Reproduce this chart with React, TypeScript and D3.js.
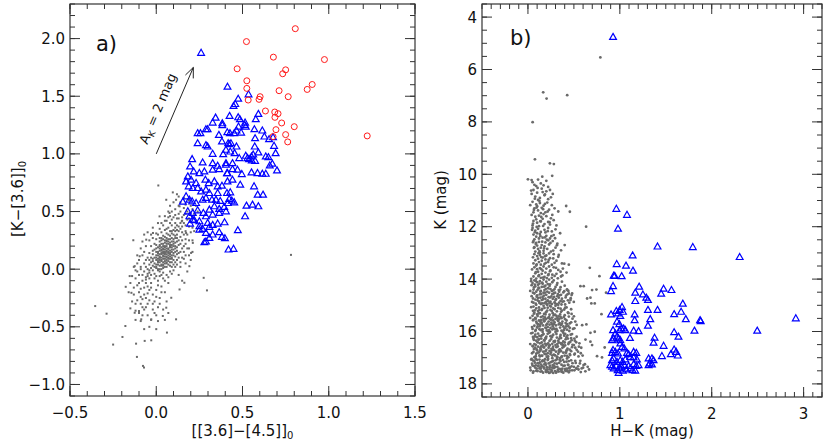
import React from 'react';
import * as d3 from 'd3';

const W = 830, H = 445;
const FONT = "'DejaVu Sans', sans-serif";
const GRAY = '#6a6a6a';
const BLUE = '#0000ff';
const RED = '#ff1a1a';
const AX = '#333';

// ---------- Panel a data: [[3.6]-[4.5]]0 vs [K-[3.6]]0 ----------
const redA: [number, number][] = [
  [0.806,2.086],[0.523,1.974],[0.679,1.839],[0.975,1.818],[0.469,1.738],[0.75,1.729],[0.733,1.695],
  [0.525,1.634],[0.525,1.568],[0.904,1.602],[0.875,1.559],[0.712,1.548],[0.533,1.467],[0.602,1.496],
  [0.596,1.473],[0.765,1.496],[0.633,1.372],[0.687,1.363],[0.706,1.349],[0.688,1.317],[0.727,1.268],
  [0.8,1.236],[0.694,1.21],[0.75,1.167],[0.677,1.15],[0.762,1.104],[1.223,1.156]
];

const blueA: [number, number][] = [
  [0.26,1.876],[0.413,1.582],[0.535,1.516],[0.475,1.478],[0.458,1.432],[0.448,1.415],[0.344,1.314],
  [0.327,1.271],[0.383,1.265],[0.383,1.248],[0.425,1.329],[0.475,1.317],[0.485,1.3],[0.515,1.271],
  [0.513,1.251],[0.592,1.346],[0.577,1.3],[0.24,1.179],[0.256,1.179],[0.288,1.213],[0.298,1.213],
  [0.363,1.164],[0.412,1.187],[0.427,1.179],[0.452,1.179],[0.465,1.202],[0.477,1.236],[0.492,1.184],
  [0.519,1.236],[0.569,1.213],[0.615,1.202],[0.627,1.15],[0.654,1.127],[0.683,1.069],[0.677,1.144],
  [0.573,1.135],[0.24,1.092],[0.288,1.075],[0.298,1.063],[0.381,1.107],[0.417,1.092],[0.423,1.084],
  [0.433,1.092],[0.429,1.02],[0.404,1.035],[0.388,0.997],[0.327,1.0],[0.465,1.063],[0.571,1.063],
  [0.592,1.012],[0.635,0.977],[0.692,1.006],[0.65,0.971],[0.208,0.954],[0.269,0.925],[0.327,0.919],
  [0.356,0.896],[0.404,0.919],[0.442,0.919],[0.454,1.006],[0.481,0.963],[0.519,0.983],[0.538,0.954],
  [0.552,0.977],[0.562,0.994],[0.573,0.939],[0.554,0.942],[0.529,0.963],[0.196,0.89],[0.217,0.847],
  [0.25,0.833],[0.279,0.847],[0.327,0.862],[0.365,0.867],[0.404,0.905],[0.41,0.833],[0.442,0.867],
  [0.471,0.862],[0.496,0.824],[0.552,0.839],[0.587,0.833],[0.615,0.827],[0.635,0.827],[0.673,0.914],
  [0.7,0.856],[0.658,0.899],[0.183,0.804],[0.202,0.775],[0.231,0.746],[0.285,0.775],[0.304,0.746],
  [0.337,0.761],[0.356,0.718],[0.381,0.723],[0.413,0.761],[0.442,0.775],[0.413,0.833],[0.173,0.761],
  [0.188,0.718],[0.212,0.703],[0.24,0.703],[0.26,0.674],[0.288,0.689],[0.308,0.66],[0.356,0.66],
  [0.41,0.66],[0.429,0.666],[0.487,0.732],[0.567,0.718],[0.588,0.646],[0.619,0.646],[0.154,0.585],
  [0.173,0.631],[0.192,0.602],[0.208,0.588],[0.231,0.573],[0.269,0.602],[0.288,0.617],[0.323,0.602],
  [0.346,0.602],[0.371,0.591],[0.423,0.608],[0.438,0.594],[0.452,0.579],[0.415,0.573],[0.558,0.559],
  [0.592,0.545],[0.523,0.55],[0.183,0.501],[0.212,0.487],[0.24,0.51],[0.273,0.487],[0.308,0.516],
  [0.337,0.545],[0.365,0.522],[0.394,0.539],[0.192,0.458],[0.212,0.429],[0.25,0.415],[0.288,0.458],
  [0.327,0.473],[0.365,0.487],[0.404,0.501],[0.196,0.395],[0.221,0.424],[0.25,0.372],[0.269,0.349],
  [0.298,0.401],[0.327,0.383],[0.356,0.395],[0.396,0.406],[0.515,0.458],[0.473,0.337],[0.25,0.343],
  [0.288,0.314],[0.308,0.366],[0.327,0.3],[0.365,0.32],[0.381,0.28],[0.398,0.268],[0.279,0.233],
  [0.308,0.271],[0.288,0.239],[0.419,0.17],[0.448,0.176]
];

const grayA: [number, number][] = [
  // core
  [0.02,0.10],[0.05,0.15],[0.03,0.08],[0.07,0.18],[-0.01,0.05],[0.04,0.12],[0.06,0.11],[0.01,0.14],[0.08,0.20],[0.00,0.02],
  [0.03,0.17],[0.05,0.07],[0.09,0.15],[-0.02,0.09],[0.02,0.21],[0.06,0.24],[0.04,0.03],[0.10,0.22],[0.07,0.10],[-0.03,0.01],
  [0.01,0.06],[0.05,0.19],[0.08,0.13],[0.03,0.13],[0.11,0.27],[0.02,-0.02],[0.06,0.16],[0.04,0.22],[-0.04,-0.03],[0.07,0.26],
  [0.09,0.09],[0.00,0.12],[0.12,0.30],[0.03,0.04],[-0.01,0.17],[0.05,0.28],[0.08,0.06],[0.02,0.16],[0.06,0.05],[0.10,0.17],
  [-0.02,0.13],[0.04,0.09],[0.07,0.14],[0.01,0.00],[0.09,0.24],[0.03,0.19],[0.05,0.11],[0.11,0.20],[-0.05,-0.06],[0.02,0.11],
  [0.06,0.20],[0.08,0.29],[0.00,0.08],[0.04,0.15],[0.10,0.12],[0.03,0.25],[-0.03,0.06],[0.07,0.07],[0.12,0.24],[0.01,0.19],
  [0.05,0.02],[0.09,0.19],[0.02,0.06],[0.06,0.13],[-0.01,-0.04],[0.04,0.18],[0.08,0.16],[0.13,0.33],[0.03,0.00],[0.07,0.22],
  [0.00,0.15],[0.05,0.09],[0.10,0.26],[0.02,0.13],[-0.04,0.04],[0.06,0.27],[0.08,0.11],[0.04,0.06],[0.11,0.15],[0.01,0.09],
  [0.03,0.22],[0.07,0.17],[-0.02,-0.01],[0.09,0.21],[0.05,0.14],[0.12,0.19],[0.02,0.03],[0.06,0.08],[0.00,-0.06],[0.04,0.26],
  [0.08,0.23],[0.10,0.08],[0.03,0.10],[-0.06,-0.09],[0.07,0.30],[0.01,0.12],[0.05,0.23],[0.09,0.12],[0.02,0.18],[0.06,0.02],
  [0.11,0.23],[-0.01,0.10],[0.04,0.01],[0.08,0.26],[0.13,0.21],[0.03,0.16],[0.00,0.04],[0.06,0.18],[0.10,0.30],[0.05,0.05],
  [0.02,0.24],[0.07,0.12],[-0.03,-0.05],[0.09,0.17],[0.04,0.11],[0.12,0.27],[0.01,-0.01],[0.06,0.22],[0.08,0.09],[0.03,0.07],
  [-0.02,0.03],[0.05,0.17],[0.10,0.14],[0.14,0.28],[0.02,0.08],[0.07,0.04],[0.04,0.20],[0.00,0.18],[0.09,0.27],[0.06,0.10],
  [0.11,0.18],[-0.04,0.08],[0.03,0.03],[0.08,0.19],[0.05,0.25],[0.01,0.15],[0.07,0.15],[0.12,0.13],[0.02,0.00],[0.06,0.06],
  [-0.01,0.02],[0.04,0.14],[0.10,0.20],[0.03,0.27],[0.08,0.03],[0.00,0.10],[0.05,0.20],[0.09,0.06],[0.13,0.25],[-0.02,0.16],
  [0.06,0.15],[0.02,0.20],[0.07,0.09],[0.11,0.11],[0.04,0.04],[0.01,0.07],[0.08,0.14],[-0.05,0.00],[0.03,0.14],[0.10,0.24],
  [0.06,0.25],[0.05,0.13],[0.00,0.01],[0.09,0.10],[0.12,0.16],[0.02,0.10],[0.07,0.24],[0.04,0.17],[-0.03,0.10],[0.08,0.21],
  [0.01,0.04],[0.11,0.29],
  // mid halo
  [-0.09,0.00],[-0.07,0.05],[-0.05,0.10],[-0.08,-0.05],[-0.06,0.02],[-0.04,0.14],[-0.03,0.20],[-0.10,-0.12],[-0.06,-0.07],[-0.04,-0.01],
  [-0.02,0.07],[-0.01,0.22],[0.00,0.26],[0.01,0.30],[0.03,0.32],[0.05,0.34],[0.07,0.36],[0.09,0.38],[0.11,0.40],[0.04,0.38],
  [0.06,0.42],[0.08,0.46],[0.10,0.34],[0.12,0.34],[0.14,0.40],[0.13,0.44],[0.15,0.32],[0.16,0.40],[0.14,0.22],[0.15,0.18],
  [0.13,0.14],[0.12,0.08],[0.14,0.06],[0.16,0.09],[0.10,0.04],[0.11,0.06],[0.09,0.02],[0.08,-0.02],[0.06,-0.05],[0.04,-0.03],
  [0.02,-0.06],[0.05,-0.10],[0.07,-0.07],[0.09,-0.04],[0.10,-0.01],[0.01,-0.14],[-0.01,-0.08],[-0.03,-0.16],[0.03,-0.20],[-0.05,-0.21],
  [-0.07,-0.16],[-0.09,-0.24],[-0.02,-0.30],[0.00,-0.24],[-0.04,-0.27],[-0.06,-0.33],[-0.11,-0.27],[-0.08,-0.33],[0.02,-0.30],[0.04,-0.35],
  [-0.13,-0.16],[-0.12,-0.30],[-0.10,-0.38],[-0.14,-0.06],[-0.16,-0.20],[-0.13,0.02],[-0.15,-0.34],[-0.11,0.12],[-0.09,0.18],[-0.08,0.24],
  [0.17,0.33],[0.19,0.37],[0.18,0.43],[0.20,0.41],[0.22,0.33],[0.21,0.52],[0.23,0.55],[0.17,0.48],[0.19,0.25],[0.16,0.53],
  [0.09,0.43],[0.07,0.50],[0.05,0.46],[0.03,0.40],[0.02,0.35],[0.00,0.31],[-0.02,0.36],[0.01,0.40],[0.11,0.47],[0.13,0.55],
  [-0.05,-0.40],[-0.01,-0.38],[0.01,-0.45],[-0.09,-0.45],[-0.04,-0.50],[0.07,-0.38],[0.05,-0.44],[-0.12,-0.44],[-0.07,-0.52],[0.00,-0.52],
  [0.06,0.31],[0.08,0.33],[-0.00,0.21],[0.02,0.27],[0.04,0.29],[0.09,0.31],[0.11,0.33],[0.13,0.37],[0.15,0.45],[0.17,0.12],
  // lower halo
  [-0.08,-0.10],[-0.05,-0.15],[-0.10,-0.20],[-0.03,-0.12],[-0.07,-0.02],[-0.12,-0.08],[0.00,-0.18],[-0.06,-0.25],[-0.09,-0.30],
  [-0.02,-0.22],[0.01,-0.10],[-0.04,-0.18],[-0.11,-0.14],[-0.07,-0.35],[-0.01,-0.28],[0.03,-0.15],[-0.13,-0.22],[-0.05,-0.30],
  [0.02,-0.25],[-0.08,-0.40],[-0.04,-0.08],[-0.10,-0.05],[0.04,-0.08],[-0.06,-0.12],[-0.02,-0.35],[-0.14,-0.28],[0.00,-0.40],
  [-0.09,-0.17],[0.05,-0.20],[-0.03,-0.44],[0.06,-0.28],[-0.12,-0.36],[-0.07,-0.22],[0.01,-0.33],[-0.05,-0.04],[0.07,-0.12],
  [-0.11,-0.02],[-0.15,-0.12],[0.03,-0.05],[-0.08,-0.26],
  // upper halo
  [0.12,0.38],[0.15,0.42],[0.10,0.45],[0.18,0.50],[0.14,0.35],[0.16,0.30],[0.13,0.48],[0.20,0.55],[0.08,0.40],[0.17,0.38],
  [0.11,0.52],[0.19,0.44],[0.06,0.35],[0.14,0.58],[0.21,0.36],[0.09,0.50],[0.16,0.62],[0.12,0.44],[0.18,0.30],[0.07,0.45],
  [0.22,0.48],[0.15,0.25],[0.10,0.58],[0.13,0.63],[0.17,0.22],[0.19,0.60],[0.05,0.42],[0.11,0.36],[0.23,0.42],[0.16,0.47],
  [0.08,0.55],[0.20,0.32],[0.14,0.50],[0.12,0.65],[0.18,0.18],[0.24,0.50],[0.09,0.33],[0.15,0.37],[0.21,0.25],[0.17,0.56],
  // side halo
  [-0.06,0.20],[-0.08,0.12],[-0.04,0.25],[-0.10,0.08],[-0.07,0.30],[0.15,0.10],[0.17,0.05],[0.14,0.02],[0.19,0.12],[0.16,0.15],
  [-0.09,0.02],[-0.05,0.32],[0.18,-0.02],[0.13,-0.05],[0.16,0.20],[-0.11,0.05],[0.20,0.08],[-0.03,0.30],[0.15,-0.10],[0.12,0.04],
  [-0.07,0.15],[0.19,0.18],[0.14,0.15],[-0.12,-0.01],[0.17,0.26],[0.21,0.15],[-0.06,0.08],[0.11,0.02],[0.13,0.10],[-0.02,0.27],
  // outliers
  [-0.254,0.262],[-0.133,0.251],[-0.354,-0.32],[-0.288,-0.386],[-0.25,-0.654],[-0.196,-0.588],[-0.117,-0.646],[-0.112,-0.761],
  [-0.077,-0.839],[-0.071,-0.853],[-0.029,-0.617],[-0.067,-0.622],[0.062,-0.55],[0.115,-0.435],[0.294,-0.184],[0.275,-0.075],
  [0.781,0.124],[0.012,0.726],[0.096,0.666],[-0.179,-0.493],[-0.125,-0.378],[-0.029,-0.435],[0.038,-0.406],[-0.177,-0.153],
  [-0.154,-0.06],[-0.144,-0.205],[-0.1,-0.363],[-0.087,-0.435],[0.058,-0.334],[0.087,-0.248],[0.135,-0.176],[0.163,-0.118],
  [0.192,0.026],[0.202,0.141],[0.212,0.228],[0.173,0.314],[0.148,0.415],[0.135,0.545],[0.115,0.602],[0.058,0.602],
  [0.077,0.487],[0.019,0.458],[-0.019,0.314],[-0.058,0.256],[-0.096,0.112],[-0.125,0.026]
];

// ---------- Panel b data: H-K vs K ----------
const blueB: [number, number][] = [
  [0.926,4.76],[0.962,11.32],[1.078,11.55],[0.98,12.08],[1.41,12.76],[1.794,12.78],[2.304,13.16],[1.139,13.1],
  [0.966,13.43],[1.067,13.49],[1.143,13.68],[0.933,13.87],[0.944,13.88],[1.02,13.89],[0.926,14.27],[0.904,14.46],
  [1.21,14.29],[1.168,14.52],[1.251,14.59],[1.288,14.71],[1.306,14.8],[1.45,14.56],[1.476,14.37],[1.562,14.42],
  [1.168,14.84],[1.685,14.94],[0.904,15.35],[0.962,15.22],[0.998,15.18],[1.024,15.07],[1.161,15.35],[1.161,15.57],
  [1.306,15.18],[1.41,15.18],[1.331,15.53],[1.591,15.34],[1.667,15.25],[1.718,15.53],[1.873,15.57],[1.88,15.61],
  [2.915,15.5],[2.495,15.97],[1.306,15.78],[1.15,15.97],[1.204,15.99],[1.591,16.03],[1.638,16.2],[1.812,15.97],
  [1.11,16.25],[1.378,16.24],[1.367,16.43],[1.476,16.55],[1.591,16.69],[1.613,16.78],[1.555,16.87],[1.631,16.92],
  [1.458,16.94],[1.034,15.25],[0.98,15.31],[1.005,15.41],[0.969,15.63],[0.995,15.72],
  [0.926,15.95],[0.951,16.08],[0.969,16.2],[0.933,16.27],[0.915,16.33],[0.987,16.27],[1.005,16.33],[0.998,15.95],
  [1.016,15.89],[1.042,15.89],[1.06,15.95],[1.005,16.46],[1.024,16.59],[1.049,16.65],[0.926,16.71],[0.915,16.82],
  [0.951,16.78],[0.98,16.84],[1.078,16.82],[1.096,16.87],[1.15,16.78],[1.179,16.82],[1.114,16.97],[1.15,16.99],
  [1.186,17.07],[1.313,17.03],[1.349,17.03],[1.367,17.1],[1.324,17.22],[1.349,17.26],[1.313,17.29],[0.897,17.29],
  [0.915,17.35],[0.933,17.41],[0.962,17.32],[0.976,17.48],[0.998,17.41],[1.02,17.35],[1.034,17.5],[0.987,17.58],
  [1.049,17.29],[1.071,17.45],[1.096,17.32],[1.114,17.41],[1.139,17.48],[1.15,17.25],[1.179,17.32],[1.204,17.29],
  [1.168,17.5],[0.915,17.1],[0.933,17.03],[0.969,17.16],[1.005,17.1],[1.031,17.16],[1.06,17.07]
];

const grayB: [number, number][] = [
  // bright sparse stars
  [0.788,5.54],[0.166,6.87],[0.203,7.11],[0.427,6.98],[0.051,8.01],[0.076,9.43],[0.239,9.58],[0.282,9.61],
  [0.0,10.19],[0.04,10.22],[0.156,10.09],[0.264,10.06],
  // stragglers right of column
  [0.633,12.0],[0.416,11.21],[0.456,11.43],[0.673,13.57],[0.778,13.89],[0.04,14.23],[0.571,14.27],[0.607,14.27],
  [0.698,14.42],[0.745,14.4],[0.85,14.52],[0.644,14.74],[0.68,14.71],[0.69,14.93],[0.727,14.93],[0.8,15.34],
  [0.59,15.76],[0.636,15.73],[0.68,16.05],[0.727,16.01],[0.626,16.31],[0.68,16.39],[0.698,16.52],[0.752,16.94],
  [0.806,16.99],[0.835,16.61],[0.427,14.42],[0.445,14.55],[0.481,14.55],[0.463,14.8],[0.499,14.87],
  // column K 10-11
  [0.05,10.3],[0.09,10.45],[0.14,10.35],[0.2,10.25],[0.07,10.4],[0.22,10.48],[0.11,10.2],[0.17,10.42],
  [0.06,10.6],[0.1,10.7],[0.15,10.55],[0.2,10.65],[0.24,10.6],[0.27,10.75],[0.08,10.85],[0.13,10.9],[0.18,10.8],
  [0.22,10.95],[0.04,10.75],[0.16,10.68],[0.25,10.88],[0.11,10.98],
  // K 11-12
  [0.05,11.05],[0.09,11.15],[0.13,11.1],[0.17,11.2],[0.21,11.08],[0.26,11.18],[0.07,11.3],[0.11,11.38],[0.15,11.28],
  [0.19,11.45],[0.23,11.35],[0.29,11.3],[0.06,11.45],[0.14,11.48],[0.33,11.42],[0.1,11.22],
  [0.04,11.55],[0.08,11.62],[0.12,11.58],[0.16,11.7],[0.2,11.6],[0.25,11.68],[0.06,11.78],[0.1,11.85],[0.14,11.8],
  [0.18,11.9],[0.22,11.82],[0.28,11.75],[0.31,11.95],[0.05,11.95],[0.12,11.98],[0.17,11.52],[0.24,11.92],[0.09,11.72],
  // K 12-13
  [0.05,12.05],[0.08,12.15],[0.11,12.08],[0.14,12.2],[0.18,12.12],[0.22,12.05],[0.26,12.18],[0.3,12.1],[0.06,12.3],
  [0.09,12.38],[0.13,12.28],[0.16,12.42],[0.2,12.35],[0.24,12.45],[0.28,12.32],[0.35,12.25],[0.07,12.48],[0.12,12.45],
  [0.19,12.22],[0.1,12.25],
  [0.06,12.55],[0.09,12.62],[0.12,12.58],[0.15,12.7],[0.19,12.6],[0.23,12.68],[0.27,12.55],[0.32,12.65],[0.07,12.78],
  [0.11,12.85],[0.14,12.8],[0.17,12.92],[0.21,12.85],[0.25,12.95],[0.3,12.8],[0.36,12.9],[0.08,12.95],[0.13,12.98],
  [0.18,12.75],[0.1,12.72],[0.22,12.52],[0.4,12.7],
  // K 13-14
  [0.07,13.05],[0.1,13.12],[0.13,13.08],[0.16,13.18],[0.2,13.1],[0.24,13.2],[0.28,13.05],[0.33,13.15],[0.08,13.28],
  [0.12,13.35],[0.15,13.3],[0.18,13.42],[0.22,13.35],[0.26,13.45],[0.31,13.3],[0.37,13.4],[0.09,13.48],[0.14,13.45],
  [0.19,13.25],[0.11,13.22],[0.23,13.02],[0.29,13.38],[0.06,13.4],[0.17,13.02],
  [0.07,13.55],[0.1,13.62],[0.13,13.58],[0.16,13.68],[0.2,13.6],[0.24,13.7],[0.28,13.55],[0.33,13.65],[0.38,13.6],
  [0.08,13.78],[0.12,13.85],[0.15,13.8],[0.18,13.92],[0.22,13.85],[0.26,13.95],[0.31,13.8],[0.36,13.9],[0.42,13.75],
  [0.09,13.98],[0.14,13.95],[0.19,13.75],[0.11,13.72],[0.23,13.52],[0.29,13.88],[0.06,13.9],[0.17,13.52],
  // extra K 10.5-14
  [0.035,10.62],[0.075,10.93],[0.125,11.02],[0.185,10.77],[0.095,11.27],[0.145,11.63],[0.215,11.42],[0.055,11.88],[0.165,11.97],[0.265,11.55],
  [0.045,12.12],[0.135,12.36],[0.205,12.49],[0.085,12.66],[0.175,12.83],[0.245,12.62],[0.115,13.01],[0.055,13.17],[0.195,13.38],[0.275,13.21],
  [0.145,13.62],[0.085,13.73],[0.225,13.81],[0.305,13.57],[0.035,13.99],[0.165,13.94],[0.355,13.72],[0.125,12.93],[0.215,12.17],[0.065,11.36],
  [0.105,10.52],[0.185,11.13],[0.235,11.83],[0.155,12.57],[0.275,12.91],[0.095,13.44],[0.245,13.67],[0.325,13.97],[0.045,13.63],[0.185,13.13],
  [0.135,11.79],[0.075,12.21],[0.255,12.36],[0.335,13.08],[0.395,13.41],[0.115,13.89],[0.205,13.96],[0.065,12.81],[0.295,12.44],[0.165,11.33],
  [0.025,11.18],[0.095,12.01],[0.225,13.27],[0.145,13.16],[0.185,12.41],[0.055,12.59],[0.265,13.83],[0.375,13.86],[0.445,13.45],[0.315,12.71],
  // K 14-15
  [0.07,14.05],[0.1,14.12],[0.13,14.08],[0.16,14.18],[0.2,14.1],[0.24,14.2],[0.28,14.05],[0.32,14.15],[0.37,14.1],
  [0.08,14.28],[0.12,14.35],[0.15,14.3],[0.18,14.42],[0.22,14.35],[0.26,14.45],[0.3,14.3],[0.35,14.4],[0.4,14.25],
  [0.09,14.48],[0.14,14.45],[0.19,14.25],[0.11,14.22],[0.23,14.02],[0.29,14.38],[0.06,14.4],[0.17,14.02],[0.44,14.45],
  [0.34,14.48],[0.21,14.48],[0.05,14.15],
  [0.07,14.55],[0.1,14.62],[0.13,14.58],[0.16,14.68],[0.2,14.6],[0.24,14.7],[0.28,14.55],[0.32,14.65],[0.36,14.6],
  [0.41,14.7],[0.08,14.78],[0.12,14.85],[0.15,14.8],[0.18,14.92],[0.22,14.85],[0.26,14.95],[0.3,14.8],[0.34,14.9],
  [0.39,14.85],[0.45,14.9],[0.09,14.98],[0.14,14.95],[0.19,14.75],[0.11,14.72],[0.23,14.52],[0.29,14.88],[0.06,14.9],
  [0.17,14.52],[0.33,14.98],[0.21,14.98],[0.27,14.75],[0.04,14.65],[0.37,14.75],[0.43,14.58],
  [0.035,14.08],[0.075,14.21],[0.115,14.33],[0.155,14.14],[0.195,14.37],[0.235,14.26],[0.275,14.43],[0.315,14.22],[0.355,14.31],[0.395,14.46],
  [0.055,14.52],[0.095,14.67],[0.135,14.71],[0.175,14.63],[0.215,14.81],[0.255,14.66],[0.295,14.93],[0.335,14.71],[0.375,14.86],[0.415,14.63],
  [0.045,14.87],[0.085,14.94],[0.125,14.91],[0.165,14.77],[0.205,14.96],[0.245,14.86],[0.285,14.68],[0.325,14.57],[0.365,14.97],[0.435,14.81],
  [0.065,14.32],[0.105,14.41],[0.145,14.57],[0.185,14.52],[0.225,14.69],[0.265,14.57],[0.305,14.77],[0.345,14.62],[0.385,14.51],[0.465,14.73],
  [0.025,14.45],[0.125,14.17],[0.215,14.19],[0.265,14.12],[0.335,14.42],[0.195,14.87],[0.105,14.81],[0.055,14.74],[0.155,14.93],[0.405,14.97],
  [0.085,14.07],[0.175,14.29],[0.245,14.38],[0.295,14.52],[0.355,14.83],[0.425,14.39],[0.135,14.48],[0.235,14.92],[0.315,14.96],[0.475,14.61],
  // K 15-16
  [0.06,15.05],[0.09,15.12],[0.12,15.08],[0.15,15.18],[0.18,15.1],[0.21,15.2],[0.25,15.05],[0.29,15.15],[0.33,15.1],
  [0.37,15.2],[0.42,15.08],[0.47,15.15],[0.07,15.28],[0.1,15.35],[0.13,15.3],[0.16,15.42],[0.19,15.35],[0.23,15.45],
  [0.27,15.3],[0.31,15.4],[0.35,15.35],[0.39,15.45],[0.44,15.3],[0.08,15.48],[0.14,15.45],[0.2,15.25],[0.11,15.22],
  [0.24,15.02],[0.28,15.38],[0.05,15.4],[0.17,15.02],[0.32,15.48],[0.22,15.48],[0.26,15.22],[0.36,15.25],[0.4,15.38],
  [0.5,15.42],[0.3,15.02],
  [0.06,15.55],[0.09,15.62],[0.12,15.58],[0.15,15.68],[0.18,15.6],[0.21,15.7],[0.25,15.55],[0.29,15.65],[0.33,15.6],
  [0.37,15.7],[0.42,15.58],[0.47,15.65],[0.07,15.78],[0.1,15.85],[0.13,15.8],[0.16,15.92],[0.19,15.85],[0.23,15.95],
  [0.27,15.8],[0.31,15.9],[0.35,15.85],[0.39,15.95],[0.44,15.8],[0.49,15.9],[0.08,15.98],[0.14,15.95],[0.2,15.75],
  [0.11,15.72],[0.24,15.52],[0.28,15.88],[0.05,15.9],[0.17,15.52],[0.32,15.98],[0.22,15.98],[0.26,15.72],[0.36,15.75],
  [0.4,15.88],[0.53,15.75],[0.3,15.52],[0.45,15.98],[0.34,15.52],[0.41,15.68],
  [0.035,15.07],[0.075,15.19],[0.115,15.31],[0.155,15.14],[0.195,15.27],[0.235,15.36],[0.275,15.12],[0.315,15.23],[0.355,15.44],[0.395,15.16],
  [0.435,15.27],[0.475,15.33],[0.055,15.57],[0.095,15.68],[0.135,15.73],[0.175,15.61],[0.215,15.83],[0.255,15.66],[0.295,15.91],[0.335,15.73],
  [0.375,15.62],[0.415,15.81],[0.455,15.69],[0.505,15.88],[0.045,15.83],[0.085,15.94],[0.125,15.91],[0.165,15.77],[0.205,15.96],[0.245,15.86],
  [0.285,15.71],[0.325,15.57],[0.365,15.97],[0.405,15.53],[0.445,15.43],[0.065,15.32],[0.105,15.41],[0.145,15.57],[0.185,15.46],[0.225,15.62],
  [0.265,15.47],[0.305,15.77],[0.345,15.68],[0.385,15.81],[0.425,15.93],[0.485,15.51],[0.025,15.48],[0.125,15.17],[0.215,15.09],[0.265,15.92],
  [0.335,15.42],[0.195,15.53],[0.105,15.81],[0.055,15.21],[0.155,15.93],[0.405,15.09],[0.085,15.51],[0.175,15.33],[0.245,15.18],[0.295,15.36],
  [0.355,15.13],[0.425,15.72],[0.135,15.63],[0.235,15.74],[0.315,15.96],[0.455,15.86],[0.365,15.49],[0.275,15.58],[0.195,15.87],[0.515,15.62],
  // K 16-17
  [0.05,16.05],[0.08,16.12],[0.11,16.08],[0.14,16.18],[0.17,16.1],[0.2,16.2],[0.23,16.05],[0.27,16.15],[0.31,16.1],
  [0.35,16.2],[0.39,16.08],[0.43,16.15],[0.48,16.1],[0.53,16.2],[0.06,16.28],[0.09,16.35],[0.12,16.3],[0.15,16.42],
  [0.18,16.35],[0.22,16.45],[0.25,16.3],[0.29,16.4],[0.33,16.35],[0.37,16.45],[0.41,16.3],[0.46,16.4],[0.51,16.35],
  [0.07,16.48],[0.13,16.45],[0.19,16.25],[0.1,16.22],[0.24,16.02],[0.28,16.38],[0.16,16.02],[0.32,16.48],[0.21,16.48],
  [0.26,16.22],[0.36,16.25],[0.4,16.42],[0.44,16.48],[0.3,16.02],[0.34,16.28],[0.38,16.02],[0.47,16.25],[0.56,16.45],
  [0.42,16.22],
  [0.05,16.55],[0.08,16.62],[0.11,16.58],[0.14,16.68],[0.17,16.6],[0.2,16.7],[0.23,16.55],[0.27,16.65],[0.31,16.6],
  [0.35,16.7],[0.39,16.58],[0.43,16.65],[0.48,16.6],[0.53,16.7],[0.58,16.62],[0.06,16.78],[0.09,16.85],[0.12,16.8],
  [0.15,16.92],[0.18,16.85],[0.22,16.95],[0.25,16.8],[0.29,16.9],[0.33,16.85],[0.37,16.95],[0.41,16.8],[0.46,16.9],
  [0.51,16.85],[0.55,16.95],[0.07,16.98],[0.13,16.95],[0.19,16.75],[0.1,16.72],[0.24,16.52],[0.28,16.88],[0.16,16.52],
  [0.32,16.98],[0.21,16.98],[0.26,16.72],[0.36,16.75],[0.4,16.92],[0.44,16.98],[0.3,16.52],[0.34,16.78],[0.38,16.52],
  [0.47,16.75],[0.42,16.72],[0.5,16.52],
  [0.035,16.07],[0.075,16.19],[0.115,16.31],[0.155,16.14],[0.195,16.27],[0.235,16.36],[0.275,16.12],[0.315,16.23],[0.355,16.44],[0.395,16.16],
  [0.435,16.27],[0.475,16.33],[0.525,16.41],[0.055,16.57],[0.095,16.68],[0.135,16.73],[0.175,16.61],[0.215,16.83],[0.255,16.66],[0.295,16.91],
  [0.335,16.73],[0.375,16.62],[0.415,16.81],[0.455,16.69],[0.505,16.88],[0.545,16.77],[0.045,16.83],[0.085,16.94],[0.125,16.91],[0.165,16.77],
  [0.205,16.96],[0.245,16.86],[0.285,16.71],[0.325,16.57],[0.365,16.97],[0.405,16.53],[0.445,16.43],[0.065,16.32],[0.105,16.41],[0.145,16.57],
  [0.185,16.46],[0.225,16.62],[0.265,16.47],[0.305,16.77],[0.345,16.68],[0.385,16.81],[0.425,16.93],[0.485,16.51],[0.025,16.48],[0.125,16.17],
  [0.215,16.09],[0.265,16.92],[0.335,16.42],[0.195,16.53],[0.105,16.81],[0.055,16.21],[0.155,16.93],[0.405,16.09],[0.085,16.51],[0.175,16.33],
  [0.245,16.18],[0.295,16.36],[0.355,16.13],[0.425,16.72],[0.135,16.63],[0.235,16.74],[0.315,16.96],[0.455,16.86],[0.365,16.49],[0.275,16.58],
  [0.195,16.87],[0.515,16.62],[0.575,16.83],[0.595,16.92],[0.555,16.58],[0.465,16.12],[0.505,16.27],[0.385,16.38],[0.145,16.27],[0.065,16.67],
  // K 17-17.6
  [0.04,17.05],[0.07,17.12],[0.1,17.08],[0.13,17.18],[0.16,17.1],[0.19,17.2],[0.22,17.05],[0.26,17.15],[0.3,17.1],
  [0.34,17.2],[0.38,17.08],[0.42,17.15],[0.47,17.1],[0.52,17.2],[0.57,17.12],[0.62,17.25],[0.05,17.3],[0.08,17.38],
  [0.11,17.32],[0.14,17.42],[0.17,17.35],[0.21,17.45],[0.24,17.3],[0.28,17.4],[0.32,17.35],[0.36,17.45],[0.4,17.3],
  [0.45,17.4],[0.5,17.35],[0.55,17.45],[0.6,17.38],[0.03,17.48],[0.09,17.5],[0.15,17.52],[0.2,17.55],[0.26,17.5],
  [0.31,17.55],[0.37,17.52],[0.43,17.5],[0.48,17.48],[0.53,17.42],[0.18,17.25],[0.12,17.22],[0.27,17.28],[0.35,17.02],
  [0.44,17.28],[0.23,17.58],[0.29,17.22],[0.06,17.52],[0.65,17.35],
  [0.035,17.07],[0.075,17.19],[0.115,17.31],[0.155,17.14],[0.195,17.27],[0.235,17.36],[0.275,17.12],[0.315,17.23],[0.355,17.44],[0.395,17.16],
  [0.435,17.27],[0.475,17.33],[0.525,17.41],[0.565,17.22],[0.055,17.57],[0.095,17.42],[0.135,17.53],[0.175,17.41],[0.215,17.53],[0.255,17.46],
  [0.295,17.51],[0.335,17.53],[0.375,17.42],[0.415,17.51],[0.455,17.49],[0.505,17.48],[0.045,17.23],[0.085,17.04],[0.125,17.41],[0.165,17.57],
  [0.205,17.36],[0.245,17.56],[0.285,17.31],[0.325,17.47],[0.365,17.27],[0.405,17.43],[0.445,17.13],[0.065,17.32],[0.105,17.21],[0.145,17.27],
  [0.185,17.06],[0.225,17.22],[0.265,17.37],[0.305,17.57],[0.345,17.08],[0.385,17.31],[0.425,17.03],[0.485,17.21],[0.025,17.38],[0.125,17.07],
  [0.215,17.09],[0.265,17.02],[0.335,17.42],[0.195,17.53],[0.105,17.51],[0.055,17.11],[0.155,17.33],[0.405,17.49],[0.085,17.29],[0.175,17.13],
  [0.245,17.18],[0.295,17.36],[0.355,17.13],[0.425,17.42],[0.135,17.37],[0.235,17.44],[0.315,17.06],[0.455,17.37],[0.365,17.54],[0.275,17.58],
  [0.195,17.47],[0.515,17.12],[0.545,17.33],[0.585,17.41],[0.605,17.28],[0.665,17.45],[0.625,17.52],[0.575,17.55],[0.385,17.57],[0.445,17.56]
];

// ---------- axes ----------
const xTicksA = [-0.5, 0, 0.5, 1, 1.5];
const yTicksA = [-1, -0.5, 0, 0.5, 1, 1.5, 2];
const xTicksB = [0, 1, 2, 3];
const yTicksB = [4, 6, 8, 10, 12, 14, 16, 18];

const xA = d3.scaleLinear().domain([-0.5, 1.5]).range([70, 415]);
const yA = d3.scaleLinear().domain([-1.1, 2.3]).range([396, 4]);
const xB = d3.scaleLinear().domain([-0.5, 3.2]).range([482, 822]);
const yB = d3.scaleLinear().domain([3.5, 18.5]).range([4, 397]);

const fmt1 = d3.format('.1f');
const fmt0 = d3.format('d');

type Scale = d3.ScaleLinear<number, number>;

function Frame({ x, y, xMajor, xMinor, yMajor, yMinor, xFmt, yFmt }: {
  x: Scale; y: Scale; xMajor: number[]; xMinor: number[]; yMajor: number[]; yMinor: number[];
  xFmt: (v: number) => string; yFmt: (v: number) => string;
}) {
  const [x0, x1] = x.range();
  const top = Math.min(...y.range()), bot = Math.max(...y.range());
  const M = 10, m = 5;
  const ticks: any[] = [];
  const add = (k: string, a: number, b: number, c: number, d: number) =>
    ticks.push(<line key={k} x1={a} y1={b} x2={c} y2={d} stroke={AX} strokeWidth={1} />);
  xMinor.forEach((v, i) => { const p = x(v); add('xm' + i, p, bot, p, bot - m); add('xmt' + i, p, top, p, top + m); });
  xMajor.forEach((v, i) => { const p = x(v); add('xM' + i, p, bot, p, bot - M); add('xMt' + i, p, top, p, top + M); });
  yMinor.forEach((v, i) => { const p = y(v); add('ym' + i, x0, p, x0 + m, p); add('ymr' + i, x1, p, x1 - m, p); });
  yMajor.forEach((v, i) => { const p = y(v); add('yM' + i, x0, p, x0 + M, p); add('yMr' + i, x1, p, x1 - M, p); });
  return (
    <g>
      <rect x={x0} y={top} width={x1 - x0} height={bot - top} fill="none" stroke={AX} strokeWidth={1.2} />
      {ticks}
      {xMajor.map((v, i) => (
        <text key={'xl' + i} x={x(v)} y={bot + 22} textAnchor="middle" fontSize={15} fill="#111" fontFamily={FONT}>{xFmt(v)}</text>
      ))}
      {yMajor.map((v, i) => (
        <text key={'yl' + i} x={x0 - 5} y={y(v) + 5.5} textAnchor="end" fontSize={15} fill="#111" fontFamily={FONT}>{yFmt(v)}</text>
      ))}
    </g>
  );
}

const tri = 'M0,-3.6L3.4,2.4L-3.4,2.4Z';

export default function App() {
  const minorXA = d3.range(-5, 16).map(i => i / 10);
  const minorYA = d3.range(-11, 24).map(i => i / 10);
  const minorXB = d3.range(-5, 33).map(i => i / 10);
  const minorYB = d3.range(7, 38).map(i => i / 2);

  // reddening arrow (A_K = 2 mag) in panel a data coords
  const ax0 = xA(0), ay0 = yA(1.0), ax1 = xA(0.215), ay1 = yA(1.75);
  const ang = Math.atan2(ay1 - ay0, ax1 - ax0);
  const hl = 11, ha = 0.4;
  const h1 = [ax1 - hl * Math.cos(ang - ha), ay1 - hl * Math.sin(ang - ha)];
  const h2 = [ax1 - hl * Math.cos(ang + ha), ay1 - hl * Math.sin(ang + ha)];

  return (
    <svg width={W} height={H} style={{ position: 'absolute', left: 0, top: 0, background: '#fff' }} fontFamily={FONT}>
      <defs>
        <clipPath id="ca"><rect x={70} y={4} width={345} height={392} /></clipPath>
        <clipPath id="cb"><rect x={482} y={4} width={340} height={393} /></clipPath>
      </defs>
      <rect width={W} height={H} fill="#fff" />

      {/* Panel a */}
      <g clipPath="url(#ca)">
        {grayA.map((d, i) => <rect key={'ga' + i} x={xA(d[0]) - 1} y={yA(d[1]) - 1} width={2} height={2} fill={GRAY} />)}
        {blueA.map((d, i) => <path key={'ba' + i} d={tri} transform={`translate(${xA(d[0])},${yA(d[1])})`} fill="none" stroke={BLUE} strokeWidth={1.2} />)}
        {redA.map((d, i) => <circle key={'ra' + i} cx={xA(d[0])} cy={yA(d[1])} r={3} fill="none" stroke={RED} strokeWidth={1} />)}
      </g>
      <Frame x={xA} y={yA} xMajor={xTicksA} xMinor={minorXA} yMajor={yTicksA} yMinor={minorYA} xFmt={fmt1} yFmt={fmt1} />
      <line x1={ax0} y1={ay0} x2={ax1} y2={ay1} stroke="#222" strokeWidth={1} />
      <polyline points={`${h1[0]},${h1[1]} ${ax1},${ay1} ${h2[0]},${h2[1]}`} fill="none" stroke="#222" strokeWidth={1} />
      <text transform={`translate(${ax0 - 9},${ay0 - 9}) rotate(-67)`} fontSize={13} fill="#111">
        A<tspan fontSize={9} dy={3}>K</tspan><tspan dy={-3}> = 2 mag</tspan>
      </text>
      <text x={96} y={51} fontSize={21} fill="#111">a)</text>
      <text x={xA(0.5)} y={436} textAnchor="middle" fontSize={15} fill="#111">
        [[3.6]−[4.5]]<tspan fontSize={10} dy={3}>0</tspan>
      </text>
      <text transform={`translate(23,199) rotate(-90)`} textAnchor="middle" fontSize={15} fill="#111">
        [K−[3.6]]<tspan fontSize={10} dy={3}>0</tspan>
      </text>

      {/* Panel b */}
      <g clipPath="url(#cb)">
        {grayB.map((d, i) => <circle key={'gb' + i} cx={xB(d[0])} cy={yB(d[1])} r={1.4} fill={GRAY} />)}
        {blueB.map((d, i) => <path key={'bb' + i} d={tri} transform={`translate(${xB(d[0])},${yB(d[1])})`} fill="none" stroke={BLUE} strokeWidth={1.2} />)}
      </g>
      <Frame x={xB} y={yB} xMajor={xTicksB} xMinor={minorXB} yMajor={yTicksB} yMinor={minorYB} xFmt={fmt0} yFmt={fmt0} />
      <text x={510} y={45} fontSize={21} fill="#111">b)</text>
      <text x={xB(1.35)} y={436} textAnchor="middle" fontSize={15} fill="#111">H−K (mag)</text>
      <text transform={`translate(446,200) rotate(-90)`} textAnchor="middle" fontSize={15} fill="#111">K (mag)</text>
    </svg>
  );
}
